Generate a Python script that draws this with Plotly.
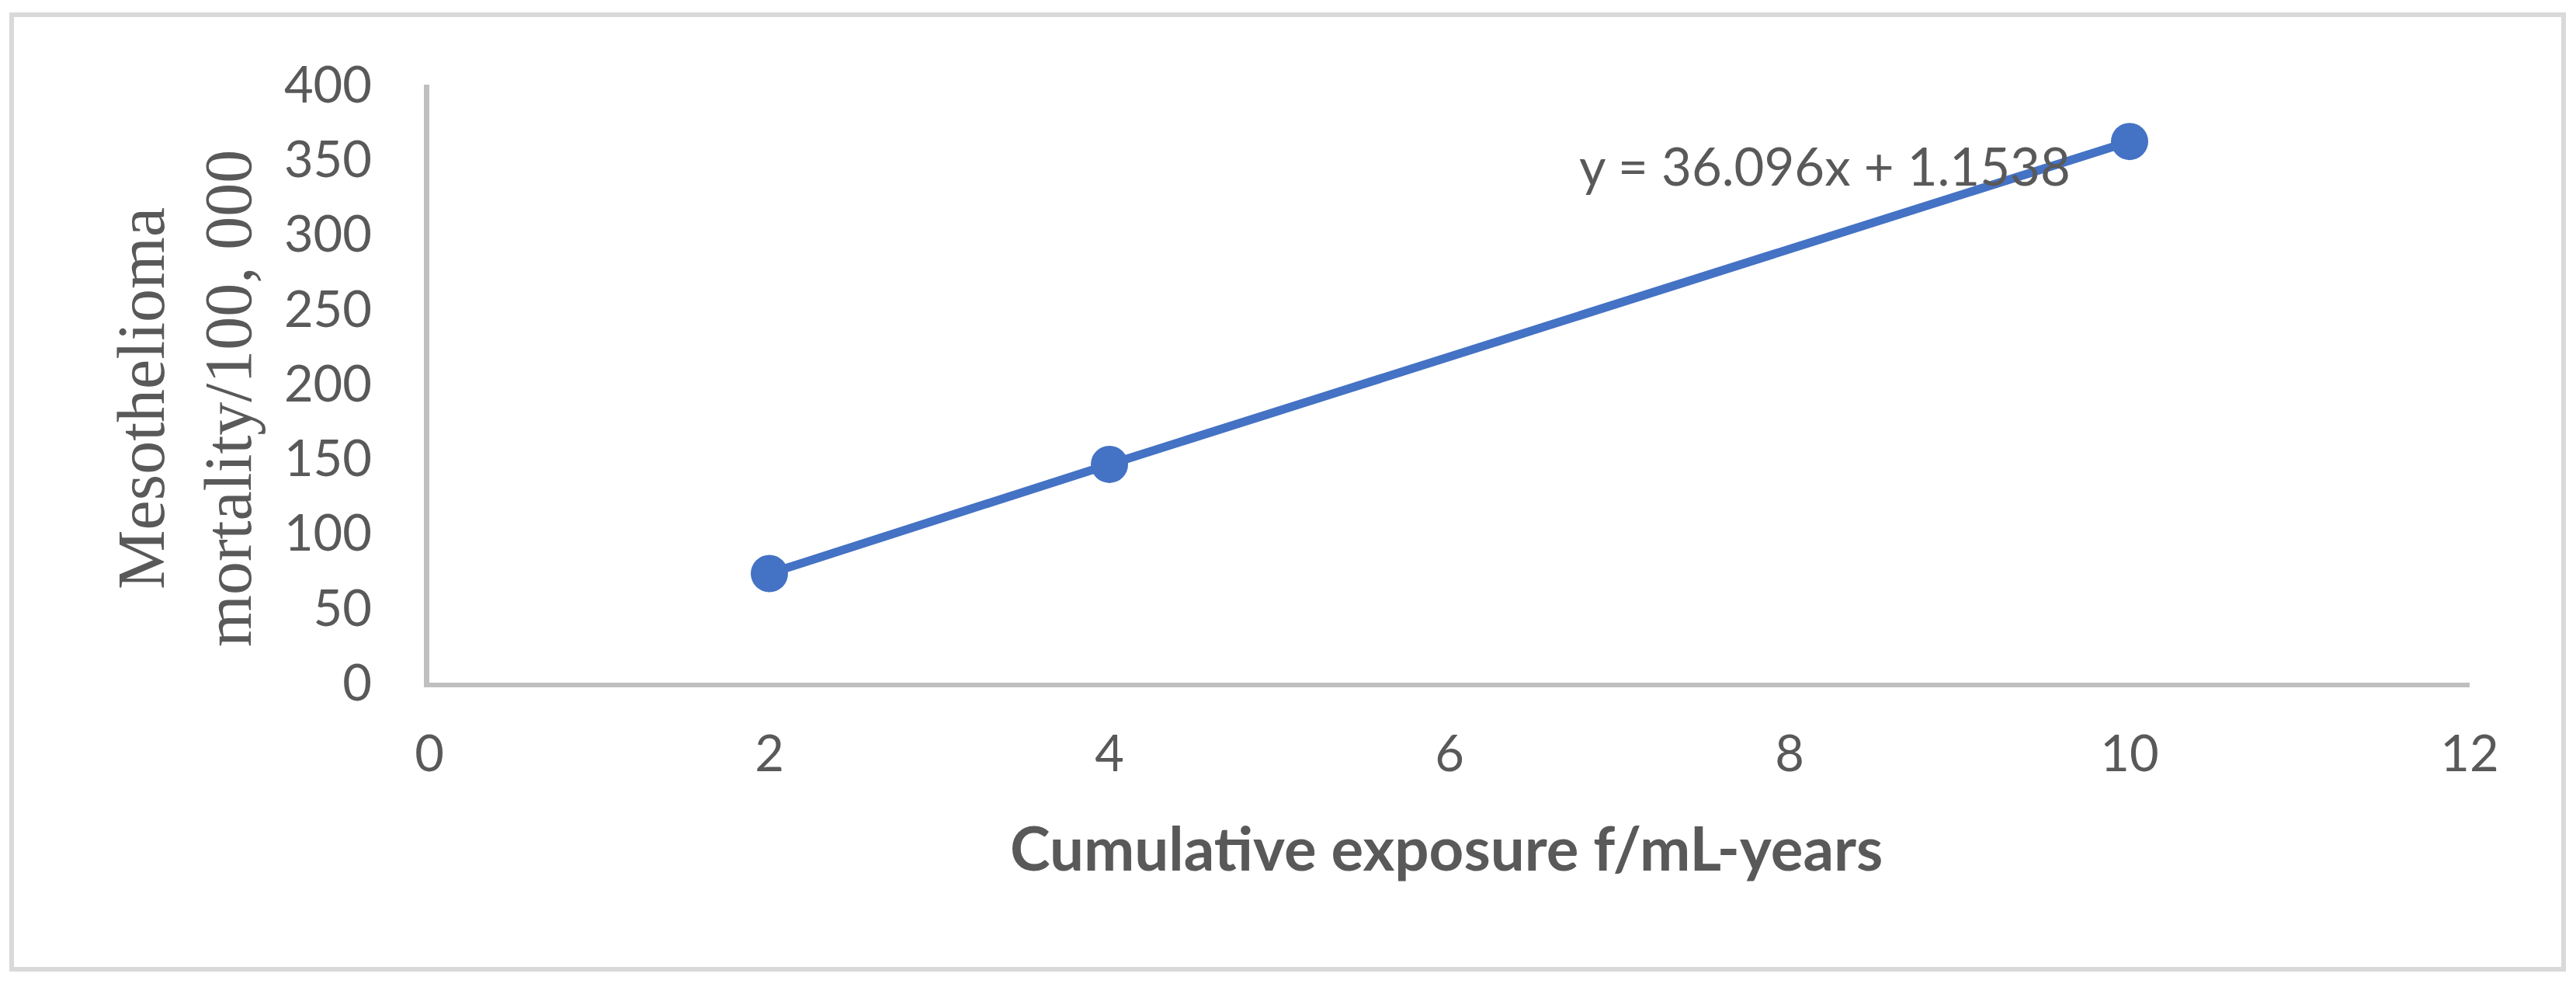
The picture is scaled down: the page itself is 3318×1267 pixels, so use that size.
import plotly.graph_objects as go

# ---- data ----
exposure = [2, 4, 10]
mortality = [73, 146, 362]
x_ticks = [0, 2, 4, 6, 8, 10, 12]
y_ticks = [0, 50, 100, 150, 200, 250, 300, 350, 400]
equation_text = "y = 36.096x + 1.1538"
x_title = "Cumulative exposure f/mL-years"
y_title_lines = ["Mesothelioma", "mortality/100, 000"]

W, H = 3318, 1267
L, R, T, B = 553, 3181, 109, 879   # plot area in px
PW, PH = R - L, B - T

def px_x(px):
    return (px - L) / PW

def px_y(py):
    return (B - py) / PH

GRAY_TXT = "#595959"
SANS = "Lato, 'Liberation Sans', sans-serif"
SERIF = "'Liberation Serif', 'DejaVu Serif', serif"

fig = go.Figure()
fig.add_trace(go.Scatter(
    x=exposure, y=mortality, mode="lines+markers",
    line=dict(color="#4472C4", width=11),
    marker=dict(color="#4472C4", size=48),
    showlegend=False, hoverinfo="x+y",
))

fig.update_layout(
    width=W, height=H,
    margin=dict(l=L, r=W - R, t=T, b=H - B, pad=0),
    paper_bgcolor="white", plot_bgcolor="white",
    xaxis=dict(range=[0, 12], tickvals=x_ticks, ticktext=[str(v) for v in x_ticks],
               showgrid=False, zeroline=False, showline=True, linecolor="#BFBFBF",
               linewidth=6, ticks="", ticklabelstandoff=30,
               tickfont=dict(family=SANS, size=65, color=GRAY_TXT)),
    yaxis=dict(range=[0, 400], tickvals=y_ticks, ticktext=[str(v) for v in y_ticks],
               showgrid=False, zeroline=False, showline=True, linecolor="#BFBFBF",
               linewidth=7, ticks="", ticklabelstandoff=54,
               tickfont=dict(family=SANS, size=65, color=GRAY_TXT)),
)

# outer border
fig.add_shape(type="rect", xref="paper", yref="paper",
              x0=px_x(15), x1=px_x(3302), y0=px_y(1248), y1=px_y(19),
              line=dict(color="#D9D9D9", width=6), fillcolor="rgba(0,0,0,0)", layer="below")

# trendline equation
fig.add_annotation(x=px_x(2350), y=px_y(213), xref="paper", yref="paper",
                   text=equation_text, showarrow=False, xanchor="center", yanchor="middle",
                   font=dict(family=SANS, size=67, color=GRAY_TXT))

# x-axis title
fig.add_annotation(x=px_x(1863), y=px_y(1091), xref="paper", yref="paper",
                   text="<b>" + x_title + "</b>", showarrow=False, xanchor="center", yanchor="middle",
                   font=dict(family=SANS, size=78, color=GRAY_TXT))

# y-axis title (two lines, rotated)
fig.add_annotation(x=px_x(238), y=px_y(513), xref="paper", yref="paper",
                   text="<br>".join(y_title_lines), showarrow=False, textangle=-90,
                   xanchor="center", yanchor="middle",
                   font=dict(family=SERIF, size=86, color=GRAY_TXT))

fig.write_html("out.html", config={"displayModeBar": False},
               post_script="document.body.style.margin='0';document.body.style.overflow='hidden';")
